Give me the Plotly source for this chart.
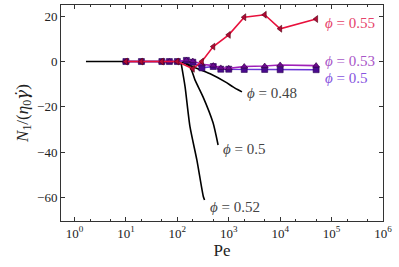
import plotly.graph_objects as go

# Black model curves (no markers)
flat_pe = [1.67, 10, 50, 122]
flat_y = [0, 0, 0, 0]

c048_pe = [122, 202, 435, 855, 1210, 1515, 1805]
c048_y = [0, -2.3, -5.4, -9.0, -11.2, -12.5, -13.4]

c050_pe = [122, 176, 220, 316, 495, 620]
c050_y = [0, -2.3, -8.1, -15.6, -27.1, -36.9]

c052_pe = [118, 141, 176, 240, 320, 338]
c052_y = [-0.5, -11.0, -28.8, -43.6, -59.7, -61.2]

# Simulation data with markers
pe_sq = [10, 20, 50, 70, 100, 150, 200, 300, 500, 700, 1000, 2000, 5000, 10000, 50000]
y_sq = [0, 0, 0, 0, 0, 0.5, -0.3, -2.8, -2.2, -3.4, -3.4, -3.5, -3.5, -3.6, -3.6]

pe_tri = [10, 20, 50, 70, 100, 150, 200, 300, 500, 700, 1000, 2000, 5000, 10000, 50000]
y_tri = [0, 0, 0, 0, 0, 0.6, 0.2, -1.2, -1.8, -2.8, -3.0, -2.2, -2.0, -1.5, -1.8]

pe_red = [10, 20, 50, 100, 200, 300, 500, 1000, 2000, 5000, 10000, 50000]
y_red = [0, 0, 0, 0, -3.2, 0, 6.6, 11.8, 19.6, 20.7, 14.5, 18.8]

xticks = [1, 10, 100, 1000, 10000, 100000, 1000000]
xtick_text = ["10<sup>0</sup>", "10<sup>1</sup>", "10<sup>2</sup>", "10<sup>3</sup>",
              "10<sup>4</sup>", "10<sup>5</sup>", "10<sup>6</sup>"]
yticks = [-60, -40, -20, 0, 20]
ytick_text = ["−60", "−40", "−20", "0", "20"]

FONT = "Liberation Serif"

fig = go.Figure()
for px_, py_ in [(flat_pe, flat_y), (c048_pe, c048_y), (c050_pe, c050_y), (c052_pe, c052_y)]:
    fig.add_trace(go.Scatter(x=px_, y=py_, mode="lines", line=dict(color="black", width=1.6, shape="spline", smoothing=0.6),
                             showlegend=False, hoverinfo="skip"))

fig.add_trace(go.Scatter(x=pe_sq, y=y_sq, mode="lines+markers",
                         line=dict(color="#6a34d6", width=1.6),
                         marker=dict(symbol="square", size=6, color="#4a0a8e", line=dict(color="#2a0050", width=0.6)),
                         showlegend=False))
fig.add_trace(go.Scatter(x=pe_tri, y=y_tri, mode="lines+markers",
                         line=dict(color="#a020b8", width=1.6),
                         marker=dict(symbol="triangle-up", size=6, color="#6a0a90", line=dict(color="#300040", width=0.6)),
                         showlegend=False))
fig.add_trace(go.Scatter(x=pe_red, y=y_red, mode="lines+markers",
                         line=dict(color="#e8103c", width=1.6),
                         marker=dict(symbol="triangle-left", size=6, color="#b00a36", line=dict(color="#500010", width=0.6)),
                         showlegend=False))

labels = [
    (4.87, 17, "<i>ϕ</i> = 0.55", "#e6426a"),
    (4.87, 0.3, "<i>ϕ</i> = 0.53", "#a856c8"),
    (4.87, -7.2, "<i>ϕ</i> = 0.5", "#8654e0"),
    (3.36, -13.9, "<i>ϕ</i> = 0.48", "#444444"),
    (2.89, -38.6, "<i>ϕ</i> = 0.5", "#444444"),
    (2.64, -64.2, "<i>ϕ</i> = 0.52", "#444444"),
]
for lx, ly, txt, col in labels:
    fig.add_annotation(x=lx, y=ly, xref="x", yref="y", text=txt, showarrow=False,
                       xanchor="left", yanchor="middle", xshift=-2,
                       font=dict(family=FONT, size=15, color=col))

fig.update_layout(
    width=399, height=267,
    margin=dict(l=61, r=16, t=5, b=46, autoexpand=False),
    paper_bgcolor="white", plot_bgcolor="white",
    font=dict(family=FONT, size=13, color="#222222"),
)
fig.update_xaxes(type="log", range=[-0.263, 6.0], tickvals=xticks, ticktext=xtick_text,
                 ticks="inside", ticklen=4, tickcolor="#333", showline=True, linecolor="#333", linewidth=1,
                 mirror="ticks", showgrid=False, zeroline=False,
                 minor=dict(ticks="inside", ticklen=2, tickcolor="#333", showgrid=False),
                 title=dict(text="Pe", font=dict(family=FONT, size=17), standoff=2),
                 tickfont=dict(family=FONT, size=13))
fig.update_yaxes(range=[-70.5, 25], tickvals=yticks, ticktext=ytick_text,
                 ticks="inside", ticklen=4, tickcolor="#333", showline=True, linecolor="#333", linewidth=1,
                 mirror="ticks", showgrid=False, zeroline=False,
                 title=dict(text="<i>N</i><sub>1</sub>/(<i>η</i><sub>0</sub><span style=\"font-family:'DejaVu Serif'\"><i>γ̇</i></span>)",
                            font=dict(family=FONT, size=17), standoff=4),
                 tickfont=dict(family=FONT, size=13))

fig.write_html("out.html", config={"displayModeBar": False},
               post_script="document.body.style.margin='0';document.body.style.padding='0';")
